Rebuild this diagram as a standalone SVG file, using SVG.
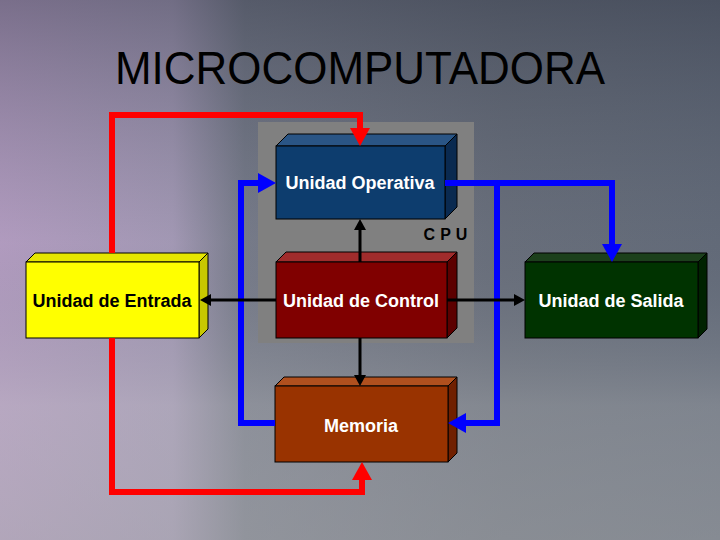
<svg xmlns="http://www.w3.org/2000/svg" width="720" height="540" viewBox="0 0 720 540">
<defs>
  <linearGradient id="bgH" x1="0" y1="0" x2="1" y2="0">
    <stop offset="0" stop-color="#bba2c8"/>
    <stop offset="0.24" stop-color="#ab9fbc"/>
    <stop offset="0.34" stop-color="#7a7e8c"/>
    <stop offset="0.7" stop-color="#6a707c"/>
    <stop offset="1" stop-color="#646c7a"/>
  </linearGradient>
  <linearGradient id="bgV" x1="0" y1="0" x2="0" y2="1">
    <stop offset="0" stop-color="#2a3040" stop-opacity="0.45"/>
    <stop offset="0.45" stop-color="#505868" stop-opacity="0.1"/>
    <stop offset="0.75" stop-color="#b0b2b4" stop-opacity="0.35"/>
    <stop offset="1" stop-color="#a8aaac" stop-opacity="0.5"/>
  </linearGradient>
  <marker id="blueArrow" markerUnits="userSpaceOnUse" markerWidth="19" markerHeight="20" refX="0" refY="10" orient="auto">
    <path d="M0,0 L18,10 L0,20 z" fill="#0000ff"/>
  </marker>
  <marker id="redArrow" markerUnits="userSpaceOnUse" markerWidth="19" markerHeight="20" refX="0" refY="10" orient="auto">
    <path d="M0,0 L18,10 L0,20 z" fill="#ff0000"/>
  </marker>
  <marker id="blackArrow" markerUnits="userSpaceOnUse" markerWidth="11" markerHeight="12" refX="0" refY="6" orient="auto">
    <path d="M0,0 L11,6 L0,12 z" fill="#000000"/>
  </marker>
  <style>
    .lbl { font-family: "Liberation Sans", Arial, sans-serif; font-weight: bold; font-size: 18px; text-anchor: middle; }
    .edge { fill: none; stroke-linejoin: miter; }
    .blue { stroke: #0000ff; stroke-width: 6; marker-end: url(#blueArrow); }
    .red { stroke: #ff0000; stroke-width: 6; marker-end: url(#redArrow); }
    .black { stroke: #000000; stroke-width: 3; marker-end: url(#blackArrow); }
    .box { stroke: #000000; stroke-width: 1; }
  </style>
</defs>

<g id="background">
  <rect x="0" y="0" width="720" height="540" fill="url(#bgH)"/>
  <rect x="0" y="0" width="720" height="540" fill="url(#bgV)"/>
</g>

<text id="title" x="360" y="84" font-family="'Liberation Sans', Arial, sans-serif" font-size="46" text-anchor="middle" textLength="490" lengthAdjust="spacingAndGlyphs" fill="#000000">MICROCOMPUTADORA</text>

<g id="cpu">
  <rect x="258" y="122" width="216" height="221" fill="#808080"/>
  <text x="448" y="240" font-family="'Liberation Sans', Arial, sans-serif" font-weight="bold" font-size="16" letter-spacing="5" text-anchor="middle" fill="#000000">CPU</text>
</g>

<g id="operativa">
  <polygon class="box" points="276,146 288,134 457,134 445,146" fill="#2a5585"/>
  <polygon class="box" points="445,146 457,134 457,207 445,219" fill="#0a2a50"/>
  <rect class="box" x="276" y="146" width="169" height="73" fill="#0d3d6e"/>
  <text class="lbl" x="360" y="189" fill="#ffffff">Unidad Operativa</text>
</g>

<g id="control">
  <polygon class="box" points="276,262 286,252 457,252 447,262" fill="#a02c2c"/>
  <polygon class="box" points="447,262 457,252 457,328 447,338" fill="#5c0000"/>
  <rect class="box" x="276" y="262" width="171" height="76" fill="#800000"/>
  <text class="lbl" x="361" y="307" fill="#ffffff">Unidad de Control</text>
</g>

<g id="entrada">
  <polygon class="box" points="26,262 35,253 208,253 199,262" fill="#e6e600"/>
  <polygon class="box" points="199,262 208,253 208,329 199,338" fill="#c8c800"/>
  <rect class="box" x="26" y="262" width="173" height="76" fill="#ffff00"/>
  <text class="lbl" x="112" y="307" fill="#000000">Unidad de Entrada</text>
</g>

<g id="salida">
  <polygon class="box" points="525,262 534,253 707,253 698,262" fill="#1c401c"/>
  <polygon class="box" points="698,262 707,253 707,329 698,338" fill="#002200"/>
  <rect class="box" x="525" y="262" width="173" height="76" fill="#003300"/>
  <text class="lbl" x="611" y="307" fill="#ffffff">Unidad de Salida</text>
</g>

<g id="memoria">
  <polygon class="box" points="275,386 284,377 457,377 448,386" fill="#b0501e"/>
  <polygon class="box" points="448,386 457,377 457,453 448,462" fill="#702000"/>
  <rect class="box" x="275" y="386" width="173" height="76" fill="#993300"/>
  <text class="lbl" x="361" y="432" fill="#ffffff">Memoria</text>
</g>

<g id="connectors">
  <path class="edge" stroke="#ff0000" stroke-width="6" d="M112,253 V115 H360 V128"/>
  <path d="M350,128 L370,128 L360,146 z" fill="#ff0000"/>
  <path class="edge red" d="M112,338 V492 H362 V480"/>
  <path class="edge" stroke="#0000ff" stroke-width="6" d="M275,423 H241 V183 H258"/>
  <path d="M258,173 L258,193 L276,183 z" fill="#0000ff"/>
  <path class="edge blue" d="M445,183 H612 V244"/>
  <path class="edge blue" d="M497,183 V423 H466"/>
  <path class="edge black" d="M276,300 H211"/>
  <path class="edge black" d="M447,300 H514"/>
  <path class="edge black" d="M360,262 V230"/>
  <path class="edge black" d="M360,338 V375"/>
</g>
</svg>
